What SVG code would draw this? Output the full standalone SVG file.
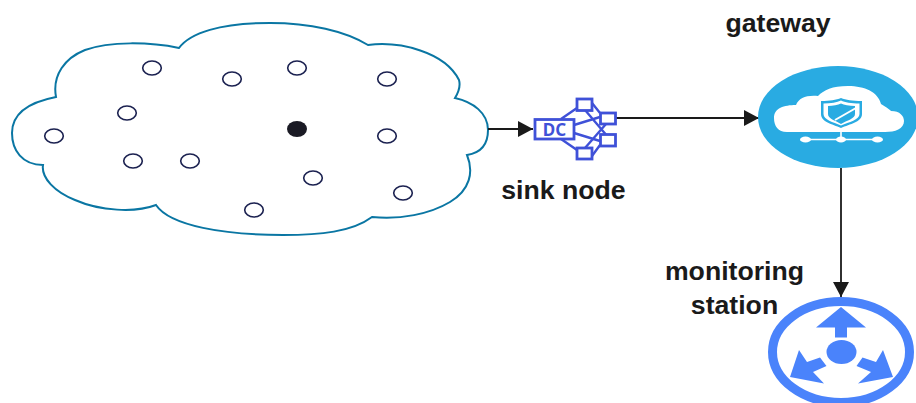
<svg xmlns="http://www.w3.org/2000/svg" width="916" height="403" viewBox="0 0 916 403">
<defs>
<style>
.lbl{font-family:"Liberation Sans",Arial,sans-serif;font-weight:700;font-size:26.67px;fill:#1a1a1a;text-anchor:middle}
.s{fill:#fff;stroke:#1b2150;stroke-width:1.6}
.dc{fill:#fff;stroke:#3f51d8;stroke-width:2.8}
.dl{fill:none;stroke:#3f51d8;stroke-width:2.4}
.c{fill:none;stroke:#1a1a1a;stroke-width:1.8}
.r{fill:#4a83fb}
</style>
<marker id="ah" markerUnits="userSpaceOnUse" markerWidth="16" markerHeight="16" refX="15" refY="8" orient="auto"><path d="M0 0L15 8L0 16Z" fill="#1a1a1a"/></marker>
</defs>
<rect width="916" height="403" fill="#fff"/>
<g id="sensor-field">
<path d="M179 48C190 33 220 23 270 23C310 23 345 31 368 45C400 41 445 52 459 80C461 87 458 93 455 98C473 102 488 113 488 130C488 145 480 153 467 155C474 172 470 190 450 202C430 214 400 220 372 217C352 232 320 235 283 235C225 235 170 226 156 205C135 213 100 211 75 200C55 192 41 178 43 165C22 165 12 150 12 133C12 112 30 102 56 97C52 75 65 58 85 50C110 41 150 42 179 48Z" fill="#fff" stroke="#0a76a3" stroke-width="2"/>
</g>
<g id="connectors">
<path class="c" d="M488 129H533" marker-end="url(#ah)"/>
<path class="c" d="M615 118H759" marker-end="url(#ah)"/>
<path class="c" d="M841 168V297" marker-end="url(#ah)"/>
</g>
<g id="n1"><ellipse class="s" cx="152" cy="68" rx="9.3" ry="7"/></g>
<g id="n2"><ellipse class="s" cx="232" cy="79" rx="9.3" ry="7"/></g>
<g id="n3"><ellipse class="s" cx="297" cy="68" rx="9.3" ry="7"/></g>
<g id="n4"><ellipse class="s" cx="387" cy="79" rx="9.3" ry="7"/></g>
<g id="n5"><ellipse class="s" cx="127" cy="113" rx="9.3" ry="7"/></g>
<g id="n6"><ellipse class="s" cx="54" cy="136" rx="9.3" ry="7"/></g>
<g id="n7"><ellipse cx="297" cy="129" rx="10" ry="8" fill="#1a1a24"/></g>
<g id="n8"><ellipse class="s" cx="387" cy="136" rx="9.3" ry="7"/></g>
<g id="n9"><ellipse class="s" cx="133" cy="161" rx="9.3" ry="7"/></g>
<g id="n10"><ellipse class="s" cx="190" cy="161" rx="9.3" ry="7"/></g>
<g id="n11"><ellipse class="s" cx="313" cy="178" rx="9.3" ry="7"/></g>
<g id="n12"><ellipse class="s" cx="403" cy="193" rx="9.3" ry="7"/></g>
<g id="n13"><ellipse class="s" cx="254" cy="210" rx="9.3" ry="7"/></g>
<g id="sink-node">
<path class="dl" d="M561 119L577 108M561 139L577 150M574 125L600 117M574 133L600 141M592 103L600 113M585 110L608 137M585 148L606 124M592 156L600 145"/>
<rect class="dc" x="535" y="119.500" width="39" height="19.500"/>
<rect class="dc" x="577" y="99" width="15" height="11.500"/>
<rect class="dc" x="600.500" y="113" width="15" height="11"/>
<rect class="dc" x="600.500" y="134.500" width="15" height="11.500"/>
<rect class="dc" x="577" y="148" width="15" height="11"/>
<text x="554.500" y="135.500" font-family="'Noto Sans',sans-serif" font-weight="700" font-size="17" fill="#3f51d8" text-anchor="middle">DC</text>
<text class="lbl" x="563.500" y="199">sink node</text>
</g>
<g id="gateway">
<ellipse cx="838" cy="117" rx="80" ry="51" fill="#29abe2"/>
<path d="M774 118C774 108 784 105 796 105C799 98 806 95 818 96C824 90 832 86 848 86C865 86 878 92 881 104C888 108 890 110 891 111C900 111 904 116 904 121C904 129 895 132 885 132H787C778 132 774 126 774 118Z" fill="#fff"/>
<path d="M821 101C830 101 836 100 841 98C846 100 852 101 862 101V114C862 122 850 124 841 128C832 124 821 122 821 114Z" fill="#29abe2"/>
<path d="M823.500 103.500C831 103.500 837 102.500 841 100.500C845 102.500 851 103.500 859.500 103.500V114C859.500 120 849 122 841 125.500C833 122 823.500 120 823.500 114Z" fill="#fff"/>
<path d="M828 106C833 106 838 105 841 103.500C844 105 849 106 855 106V114C855 119 847 120 841 124C835 120 828 119 828 114Z" fill="#29abe2"/>
<path d="M835 120L856 108" stroke="#fff" stroke-width="2" fill="none"/>
<path d="M841 132V139.500M806 139.500H876" stroke="#fff" stroke-width="1.600" fill="none"/>
<ellipse cx="805.500" cy="139.500" rx="5.500" ry="3" fill="#fff"/>
<ellipse cx="841" cy="139.500" rx="5" ry="3" fill="#fff"/>
<ellipse cx="877.500" cy="139.500" rx="5.500" ry="3" fill="#fff"/>
<text class="lbl" x="778" y="32">gateway</text>
</g>
<g id="monitoring-station">
<ellipse cx="841" cy="352" rx="68.500" ry="50.500" fill="none" stroke="#4a83fb" stroke-width="9"/>
<ellipse class="r" cx="841.500" cy="352" rx="15" ry="12"/>
<path class="r" d="M841 307L866 327.500H847V337.500H835V327.500H816Z"/>
<path class="r" d="M790 377L799 350L807 362L820 357.500L826.500 366L813 372L824 383.500Z"/>
<path class="r" d="M893 377L883 350L876 362L862.500 357.500L856.500 366L871 372L858 383.500Z"/>
<text class="lbl" x="734.500" y="280">monitoring</text>
<text class="lbl" x="734.500" y="314">station</text>
</g>
</svg>
